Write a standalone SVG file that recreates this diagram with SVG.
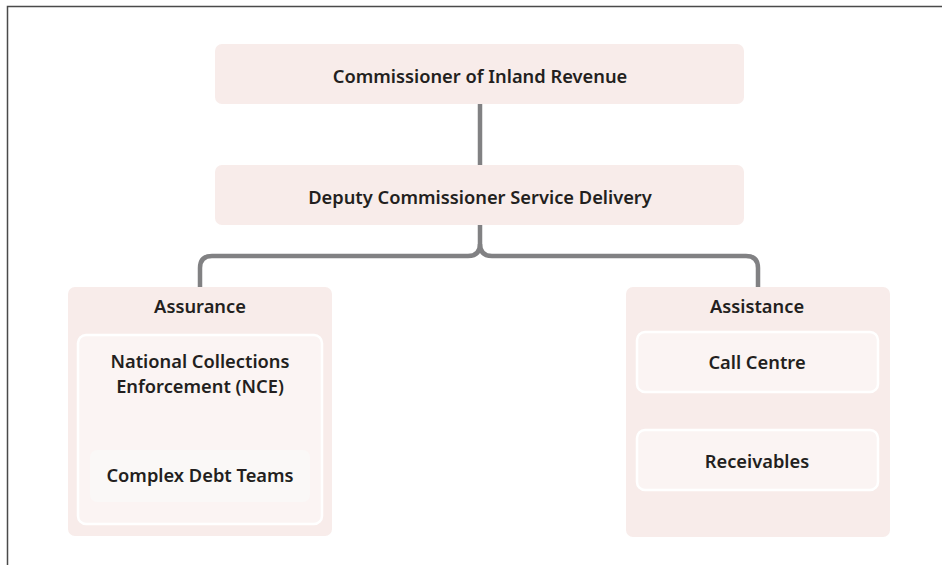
<svg xmlns="http://www.w3.org/2000/svg" width="942" height="570" viewBox="0 0 942 570">
<style>
.frame{fill:none;stroke:#4a4a4a;stroke-width:1.5}
.box{fill:#f8ecea}
.inner{fill:#fbf4f3;stroke:#ffffff;stroke-width:2.5}
.sub{fill:#faf8f7}
.conn{fill:none;stroke:#818183;stroke-width:4.5}
text{font-family:"Noto Sans","Open Sans","Liberation Sans",sans-serif;font-weight:600;font-size:18.3px;fill:#231f20;text-anchor:middle}
</style>
<rect width="942" height="570" fill="#ffffff"/>
<path class="frame" d="M7.5,565 V6.5 H942"/>
<g id="connectors">
<path class="conn" d="M480,104 V165"/>
<path class="conn" d="M480,225 V244 Q480,256 468,256 H212 Q200,256 200,268 V287"/>
<path class="conn" d="M480,244 Q480,256 492,256 H746 Q758,256 758,268 V287"/>
</g>
<g id="commissioner">
<rect class="box" x="215" y="44" width="529" height="60" rx="7"/>
<text x="480" y="83">Commissioner of Inland Revenue</text>
</g>
<g id="deputy">
<rect class="box" x="215" y="165" width="529" height="60" rx="7"/>
<text x="480" y="204">Deputy Commissioner Service Delivery</text>
</g>
<g id="assurance">
<rect class="box" x="68" y="287" width="264" height="249" rx="7"/>
<text x="200" y="313">Assurance</text>
</g>
<g id="nce">
<rect class="inner" x="78" y="335" width="244" height="189" rx="8"/>
<text x="200" y="368">National Collections</text>
<text x="200" y="393">Enforcement (NCE)</text>
</g>
<g id="complex-debt">
<rect class="sub" x="90" y="450" width="220" height="52" rx="7"/>
<text x="200" y="482">Complex Debt Teams</text>
</g>
<g id="assistance">
<rect class="box" x="626" y="287" width="264" height="250" rx="7"/>
<text x="757" y="313">Assistance</text>
</g>
<g id="call-centre">
<rect class="inner" x="637" y="332" width="241" height="60" rx="8"/>
<text x="757" y="369">Call Centre</text>
</g>
<g id="receivables">
<rect class="inner" x="637" y="430" width="241" height="60" rx="8"/>
<text x="757" y="468">Receivables</text>
</g>
</svg>
